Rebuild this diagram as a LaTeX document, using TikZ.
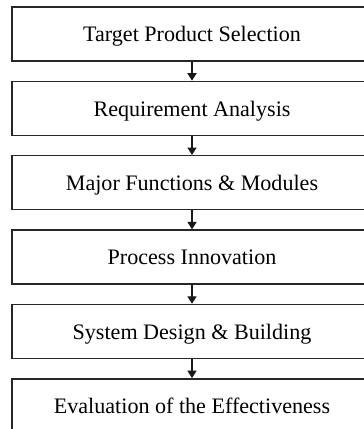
\documentclass[tikz,border=0pt]{standalone}
\usepackage{fontspec}
\setmainfont{Liberation Serif}
\usetikzlibrary{arrows.meta,positioning}

\begin{document}
\begin{tikzpicture}[
    font=\fontsize{22}{26}\selectfont,
    stage/.style={rectangle, draw=black!85, line width=1.5pt, minimum width=12.6cm, minimum height=1.89cm, inner sep=0pt, text depth=0pt},
    flow/.style={-{Triangle[width=0.32cm,length=0.26cm]}, line width=1.1pt, black!90}
]
\useasboundingbox (0,0) rectangle (12.74,-15.015);
\clip (0,0) rectangle (12.74,-15.015);

% Stages
\node[stage] (select) at (6.72,-1.19) {Target Product Selection};
\node[stage, below=0.66cm of select] (req) {Requirement Analysis};
\node[stage, below=0.66cm of req] (func) {Major Functions \& Modules};
\node[stage, below=0.66cm of func] (proc) {Process Innovation};
\node[stage, below=0.66cm of proc] (design) {System Design \& Building};
\node[stage, below=0.66cm of design] (eval) {Evaluation of the Effectiveness};

% Arrows between stages
\foreach \a/\b in {select/req, req/func, func/proc, proc/design, design/eval} {
    \draw[flow] (\a.south) -- (\b.north);
}

\end{tikzpicture}
\end{document}
